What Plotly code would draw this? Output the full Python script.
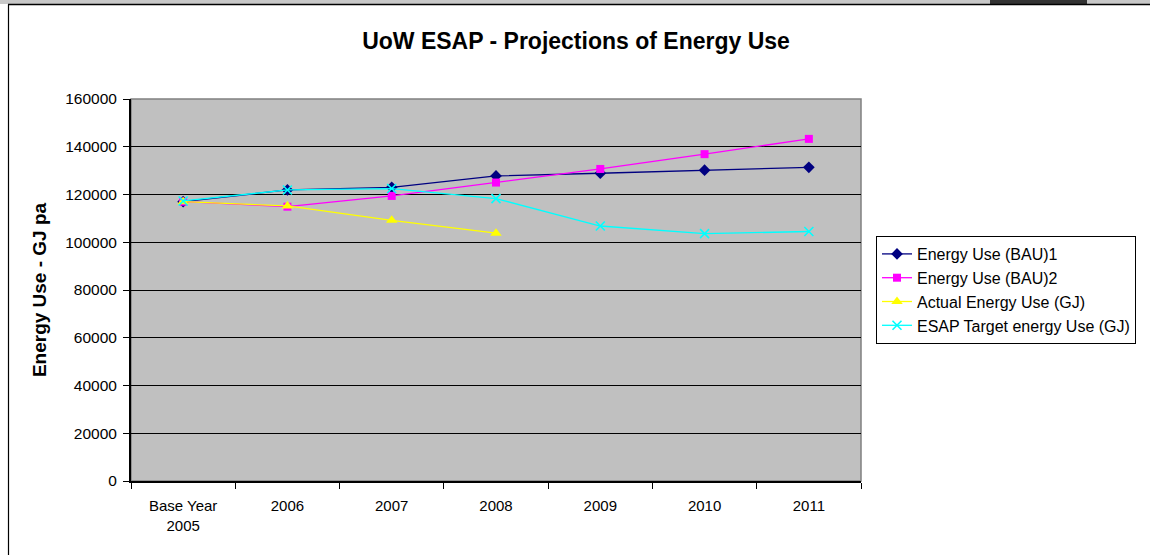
import plotly.graph_objects as go

categories = ["Base Year<br>2005", "2006", "2007", "2008", "2009", "2010", "2011"]
bau1 = [117000, 121900, 123000, 127800, 128900, 130200, 131400]
bau2 = [117000, 114900, 119400, 125000, 130700, 136900, 143300]
actual = [117000, 115200, 109200, 103800]
esap = [117300, 121900, 122500, 118300, 106800, 103600, 104500]
y_ticks = [0, 20000, 40000, 60000, 80000, 100000, 120000, 140000, 160000]

W, H = 1150, 555
L, R, T, B = 131, 861, 99, 481

def px(x):
    return (x - L) / (R - L)

def py(y):
    return (B - y) / (B - T)

fig = go.Figure()
fig.add_trace(go.Scatter(x=categories, y=bau1, name="Energy Use (BAU)1", mode="lines+markers",
                         line=dict(color="#000080", width=1.3),
                         marker=dict(symbol="diamond", size=9, color="#000080"), legendgroup="a"))
fig.add_trace(go.Scatter(x=categories, y=bau2, name="Energy Use (BAU)2", mode="lines+markers",
                         line=dict(color="#FF00FF", width=1.3),
                         marker=dict(symbol="square", size=8, color="#FF00FF"), legendgroup="b"))
fig.add_trace(go.Scatter(x=categories[:len(actual)], y=actual, name="Actual Energy Use (GJ)", mode="lines+markers",
                         line=dict(color="#FFFF00", width=1.3),
                         marker=dict(symbol="triangle-up", size=10, color="#FFFF00"), legendgroup="c"))
fig.add_trace(go.Scatter(x=categories, y=esap, name="ESAP Target energy Use (GJ)", mode="lines+markers",
                         line=dict(color="#00FFFF", width=1.3),
                         marker=dict(symbol="x-thin", size=9, color="#00FFFF",
                                     line=dict(color="#00FFFF", width=1.6)), legendgroup="d"))

shapes = [
    # top strip
    dict(type="rect", xref="paper", yref="paper", x0=px(0), x1=px(1150), y0=py(4), y1=py(0),
         line=dict(width=0), fillcolor="#C8C8C8", layer="above"),
    dict(type="rect", xref="paper", yref="paper", x0=px(990), x1=px(1087), y0=py(4), y1=py(0),
         line=dict(width=0), fillcolor="#333333", layer="above"),
    # outer chart frame lines
    dict(type="line", xref="paper", yref="paper", x0=px(8), x1=px(1150), y0=py(4.5), y1=py(4.5),
         line=dict(color="#000000", width=1.5), layer="above"),
    dict(type="line", xref="paper", yref="paper", x0=px(8.5), x1=px(8.5), y0=py(4.5), y1=py(555),
         line=dict(color="#000000", width=1.2), layer="above"),
    # plot area border (gray)
    dict(type="rect", xref="paper", yref="paper", x0=0, x1=1, y0=0, y1=1,
         line=dict(color="#808080", width=1.5), fillcolor="rgba(0,0,0,0)", layer="below"),
]

fig.update_layout(
    width=W, height=H,
    margin=dict(l=L, r=W - R, t=T, b=H - B, pad=0),
    paper_bgcolor="#FFFFFF",
    plot_bgcolor="#C0C0C0",
    font=dict(family="Liberation Sans, Arial, sans-serif", size=15, color="#000000"),
    title=dict(text="<b>UoW ESAP - Projections of Energy Use</b>", x=px(576), xanchor="center",
               y=1 - 41 / H, yanchor="middle", xref="paper", yref="container",
               font=dict(size=23, family="Liberation Sans, Arial, sans-serif")),
    showlegend=True,
    legend=dict(x=px(876), y=py(236), xanchor="left", yanchor="top",
                bgcolor="#FFFFFF", bordercolor="#000000", borderwidth=1,
                font=dict(size=16), tracegroupgap=0, itemwidth=30),
    shapes=shapes,
    xaxis=dict(type="category", range=[-0.5, 6.5], showgrid=False, zeroline=False,
               showline=True, linecolor="#000000", linewidth=2,
               ticks="outside", tickson="boundaries", ticklen=6, tickcolor="#000000",
               ticklabelstandoff=10, tickfont=dict(size=15)),
    yaxis=dict(range=[0, 160000], tickvals=y_ticks, ticktext=[str(v) for v in y_ticks],
               showgrid=True, gridcolor="#000000", gridwidth=1.3, zeroline=False,
               showline=True, linecolor="#000000", linewidth=2,
               ticks="outside", ticklen=6, tickcolor="#000000",
               ticklabelstandoff=3, tickfont=dict(size=15.5),
               title=dict(text="<b>Energy Use - GJ pa</b>", font=dict(size=19), standoff=14)),
)

fig.write_html("out.html", config={"displayModeBar": False},
               post_script="document.body.style.margin='0';document.body.style.overflow='hidden';window.scrollTo(0,0);")
